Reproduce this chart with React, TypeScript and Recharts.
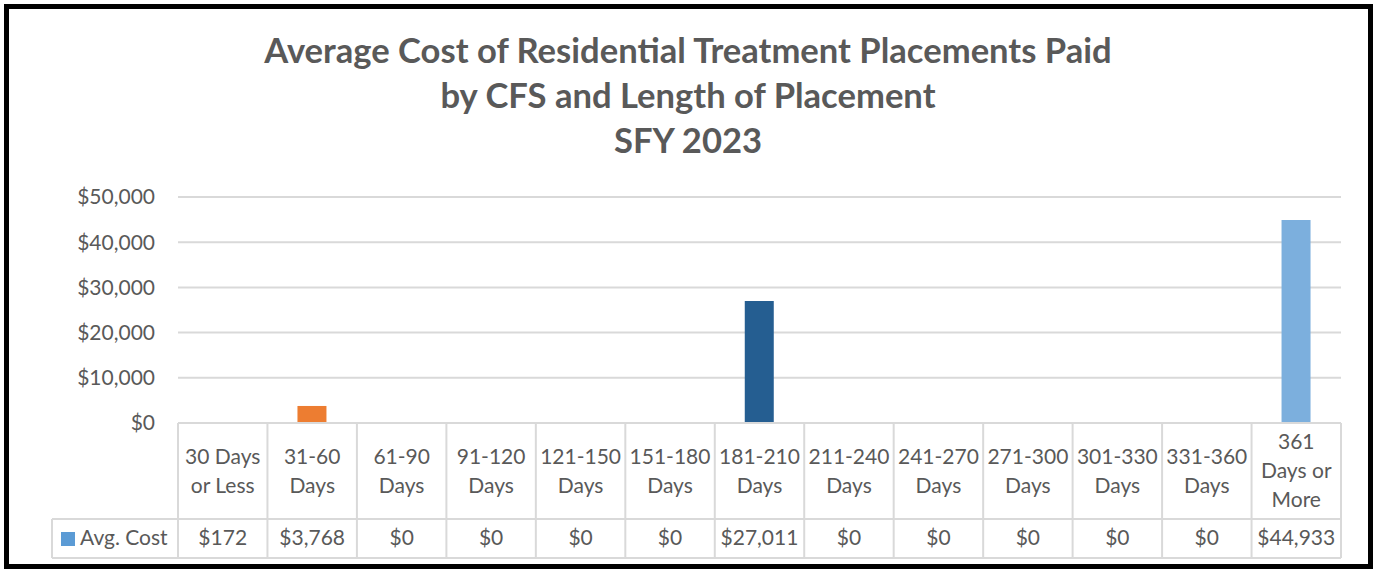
import React from "react";
import { BarChart, Bar, Cell, XAxis, YAxis, CartesianGrid } from "recharts";

// categories (line breaks as in the data table header)
const categories = [
  "30 Days\nor Less",
  "31-60\nDays",
  "61-90\nDays",
  "91-120\nDays",
  "121-150\nDays",
  "151-180\nDays",
  "181-210\nDays",
  "211-240\nDays",
  "241-270\nDays",
  "271-300\nDays",
  "301-330\nDays",
  "331-360\nDays",
  "361\nDays or\nMore",
];
const avgCost = [172, 3768, 0, 0, 0, 0, 27011, 0, 0, 0, 0, 0, 44933];
const yTicks = [0, 10000, 20000, 30000, 40000, 50000];
const pointColors = [
  "#5B9BD5", "#ED7D31", "#A5A5A5", "#FFC000", "#4472C4", "#70AD47",
  "#255E91", "#9E480E", "#636363", "#997300", "#264478", "#43682B", "#7CAFDD",
];
const seriesName = "Avg. Cost";
const titleLines = [
  "Average Cost of Residential Treatment Placements Paid",
  "by CFS and Length of Placement",
  "SFY 2023",
];

const data = categories.map((c, i) => ({ name: c, cost: avgCost[i] }));

const W = 1374;
const H = 570;
const LEFT = 178;
const RIGHT = 33;
const TOP = 197;
const AXIS_Y = 423;
const ROW_Y = 519;
const TABLE_BOTTOM = 558;
const LEGEND_X = 52;
const CELL_W = (W - LEFT - RIGHT) / categories.length;
const FONT = "Lato, 'Noto Sans', sans-serif";
const TEXT = "#595959";
const LINE = "#D9D9D9";
const FS = 21;

const money = (v: number) => "$" + v.toLocaleString("en-US");

function TableTick(props: any) {
  const { x, payload, index } = props;
  const lines: string[] = String(payload.value).split("\n");
  const left = x - CELL_W / 2;
  const mid = (AXIS_Y + ROW_Y) / 2;
  const first = mid - ((lines.length - 1) * 29) / 2;
  return (
    <g>
      {index === 0 && (
        <g>
          <line x1={LEGEND_X} x2={W - RIGHT} y1={ROW_Y} y2={ROW_Y} stroke={LINE} strokeWidth={2} />
          <line x1={LEGEND_X} x2={W - RIGHT} y1={TABLE_BOTTOM} y2={TABLE_BOTTOM} stroke={LINE} strokeWidth={2} />
          <line x1={LEGEND_X} x2={LEGEND_X} y1={ROW_Y} y2={TABLE_BOTTOM} stroke={LINE} strokeWidth={2} />
          <rect x={61} y={532} width={14} height={14} fill={pointColors[0]} />
          <text x={80} y={545} fill={TEXT} fontSize={FS} fontFamily={FONT}>
            {seriesName}
          </text>
        </g>
      )}
      <line x1={left} x2={left} y1={AXIS_Y} y2={TABLE_BOTTOM} stroke={LINE} strokeWidth={2} />
      {index === categories.length - 1 && (
        <line x1={left + CELL_W} x2={left + CELL_W} y1={AXIS_Y} y2={TABLE_BOTTOM} stroke={LINE} strokeWidth={2} />
      )}
      <text textAnchor="middle" fill={TEXT} fontSize={FS} fontFamily={FONT}>
        {lines.map((l, i) => (
          <tspan key={i} x={x} y={first + i * 29 + 7}>
            {l}
          </tspan>
        ))}
      </text>
      <text x={x} y={545} textAnchor="middle" fill={TEXT} fontSize={FS} fontFamily={FONT}>
        {money(avgCost[index])}
      </text>
    </g>
  );
}

export default function App() {
  return (
    <div style={{ position: "absolute", left: 0, top: 0, width: W, height: H, background: "#fff" }}>
      <BarChart
        width={W}
        height={H}
        data={data}
        margin={{ top: TOP, right: RIGHT, bottom: H - TABLE_BOTTOM, left: 0 }}
      >
        <CartesianGrid vertical={false} stroke={LINE} strokeWidth={2} />
        <YAxis
          width={LEFT}
          domain={[0, 50000]}
          ticks={yTicks}
          tickFormatter={money}
          axisLine={false}
          tickLine={false}
          tickSize={0}
          tickMargin={23}
          tick={{ fill: TEXT, fontSize: FS, fontFamily: FONT }}
        />
        <XAxis
          dataKey="name"
          height={TABLE_BOTTOM - AXIS_Y}
          interval={0}
          tickLine={false}
          axisLine={{ stroke: LINE, strokeWidth: 2 }}
          tick={<TableTick />}
        />
        <Bar dataKey="cost" barSize={29} isAnimationActive={false}>
          {data.map((d, i) => (
            <Cell key={d.name} fill={pointColors[i]} />
          ))}
        </Bar>
      </BarChart>
      <svg
        width={W}
        height={H}
        style={{ position: "absolute", left: 0, top: 0, pointerEvents: "none" }}
      >
        {titleLines.map((t, i) => (
          <text
            key={t}
            x={688}
            y={63 + i * 45}
            textAnchor="middle"
            fill={TEXT}
            fontSize={34.6}
            fontWeight="bold"
            fontFamily={FONT}
          >
            {t}
          </text>
        ))}
      </svg>
      <div
        style={{
          position: "absolute",
          left: 4,
          top: 4,
          width: 1369,
          height: 565,
          border: "5px solid #000",
          boxSizing: "border-box",
        }}
      />
    </div>
  );
}
